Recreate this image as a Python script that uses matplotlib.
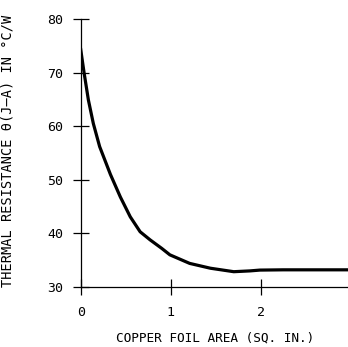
import numpy as np
import matplotlib
matplotlib.use("Agg")
import matplotlib.pyplot as plt

# values
area = [0.0, 0.037, 0.085, 0.14, 0.21, 0.33, 0.44, 0.55, 0.66, 0.77,
        0.90, 0.99, 1.21, 1.44, 1.70, 1.88, 1.99, 2.25, 3.0]
theta = [74.3, 70.0, 64.9, 60.5, 56.2, 51.0, 46.8, 43.1, 40.3, 38.8,
         37.2, 36.0, 34.4, 33.5, 32.85, 33.0, 33.15, 33.2, 33.2]

x_ticks = [0, 1, 2, 3]
y_ticks = [30, 40, 50, 60, 70, 80]

plt.rcParams['font.family'] = 'DejaVu Sans Mono'

fig = plt.figure(figsize=(3.48, 3.47), dpi=100)
ax = fig.add_axes([0.232, 0.173, 0.776, 0.772])

ax.plot(area, theta, color='black', lw=2.3, solid_joinstyle='round')

ax.set_xlim(0, 3)
ax.set_ylim(30, 80)
ax.set_xticks(x_ticks)
ax.set_yticks(y_ticks)

for s in ['top', 'right']:
    ax.spines[s].set_visible(False)
for s in ['left', 'bottom']:
    ax.spines[s].set_linewidth(0.9)

ax.tick_params(direction='inout', length=11.5, width=0.9, labelsize=9.5)
ax.tick_params(axis='y', pad=7)
ax.tick_params(axis='x', pad=8)

ax.set_xlabel("COPPER FOIL AREA (SQ. IN.)", fontsize=9.2)
ax.set_ylabel("THERMAL RESISTANCE θ(J–A) IN °C/W", fontsize=9.8)
ax.xaxis.set_label_coords(0.497, -0.165)
ax.yaxis.set_label_coords(-0.245, 0.508)

fig.savefig("out.png", dpi=100)
